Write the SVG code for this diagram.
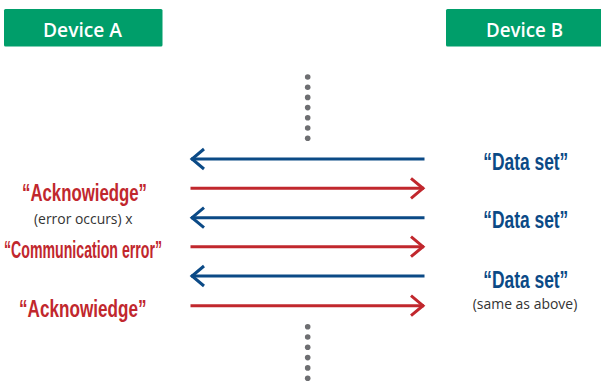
<svg xmlns="http://www.w3.org/2000/svg" width="601" height="385" viewBox="0 0 601 385">
<defs>
<style>
.hdr{fill:#009e6a;}
.hdrt{font-family:"Open Sans","Liberation Sans",sans-serif;font-weight:600;font-size:19px;fill:#ffffff;}
.red{font-family:"Liberation Sans Narrow","Liberation Sans",sans-serif;font-weight:bold;font-size:23px;fill:#c1272d;}
.blu{font-family:"Liberation Sans Narrow","Liberation Sans",sans-serif;font-weight:bold;font-size:23px;fill:#0b4a86;}
.note{font-family:"Open Sans","Liberation Sans",sans-serif;font-size:14px;fill:#333333;}
.lb{stroke:#0b4a86;stroke-width:3;fill:none;}
.lr{stroke:#c1272d;stroke-width:3;fill:none;}
.dot{fill:#6d6e71;}
</style>
<marker id="ab" markerUnits="userSpaceOnUse" markerWidth="20" markerHeight="26" refX="15" refY="12" orient="auto" viewBox="0 0 20 26">
<path d="M2,2 L14,12 L2,22" fill="none" stroke="#0b4a86" stroke-width="3"/>
</marker>
<marker id="ar" markerUnits="userSpaceOnUse" markerWidth="20" markerHeight="26" refX="15" refY="12" orient="auto" viewBox="0 0 20 26">
<path d="M2,2 L14,12 L2,22" fill="none" stroke="#c1272d" stroke-width="3"/>
</marker>
</defs>
<rect width="601" height="385" fill="#ffffff"/>
<g id="deviceA">
<rect class="hdr" x="4" y="9" width="158.5" height="37.5" rx="1.5"/>
<text class="hdrt" x="82.5" y="36.5" text-anchor="middle" textLength="79" lengthAdjust="spacingAndGlyphs">Device A</text>
</g>
<g id="deviceB">
<rect class="hdr" x="446" y="9" width="158" height="37.5" rx="1.5"/>
<text class="hdrt" x="524.5" y="36.5" text-anchor="middle" textLength="77" lengthAdjust="spacingAndGlyphs">Device B</text>
</g>
<g id="dotsTop">
<circle class="dot" cx="307.7" cy="77" r="2.8"/>
<circle class="dot" cx="307.7" cy="87.2" r="2.8"/>
<circle class="dot" cx="307.7" cy="97.4" r="2.8"/>
<circle class="dot" cx="307.7" cy="107.6" r="2.8"/>
<circle class="dot" cx="307.7" cy="117.8" r="2.8"/>
<circle class="dot" cx="307.7" cy="128" r="2.8"/>
<circle class="dot" cx="307.7" cy="138.2" r="2.8"/>
</g>
<g id="dotsBottom">
<circle class="dot" cx="307.7" cy="326.7" r="2.8"/>
<circle class="dot" cx="307.7" cy="337" r="2.8"/>
<circle class="dot" cx="307.7" cy="347.3" r="2.8"/>
<circle class="dot" cx="307.7" cy="357.6" r="2.8"/>
<circle class="dot" cx="307.7" cy="367.9" r="2.8"/>
<circle class="dot" cx="307.7" cy="378.2" r="2.8"/>
</g>
<g id="connectors">
<line class="lb" x1="424.5" y1="159" x2="191" y2="159" marker-end="url(#ab)"/>
<line class="lr" x1="190.5" y1="188.3" x2="424" y2="188.3" marker-end="url(#ar)"/>
<line class="lb" x1="424.5" y1="217.7" x2="191" y2="217.7" marker-end="url(#ab)"/>
<line class="lr" x1="190.5" y1="246.7" x2="424" y2="246.7" marker-end="url(#ar)"/>
<line class="lb" x1="424.5" y1="276" x2="191" y2="276" marker-end="url(#ab)"/>
<line class="lr" x1="190.5" y1="305.7" x2="424" y2="305.7" marker-end="url(#ar)"/>
</g>
<g id="labelsA">
<text class="red" x="22" y="201" textLength="125" lengthAdjust="spacingAndGlyphs">“Acknowiedge”</text>
<text class="note" x="34" y="224" textLength="98.5" lengthAdjust="spacingAndGlyphs">(error occurs) x</text>
<text class="red" x="4" y="258.3" textLength="158" lengthAdjust="spacingAndGlyphs">“Communication error”</text>
<text class="red" x="19" y="317.3" textLength="127.5" lengthAdjust="spacingAndGlyphs">“Acknowiedge”</text>
</g>
<g id="labelsB">
<text class="blu" x="483.3" y="170" textLength="85" lengthAdjust="spacingAndGlyphs">“Data set”</text>
<text class="blu" x="483.3" y="228.3" textLength="85" lengthAdjust="spacingAndGlyphs">“Data set”</text>
<text class="blu" x="483.3" y="288" textLength="85" lengthAdjust="spacingAndGlyphs">“Data set”</text>
<text class="note" x="472.7" y="308.5" font-size="12.5" textLength="104.6" lengthAdjust="spacingAndGlyphs">(same as above)</text>
</g>
</svg>
